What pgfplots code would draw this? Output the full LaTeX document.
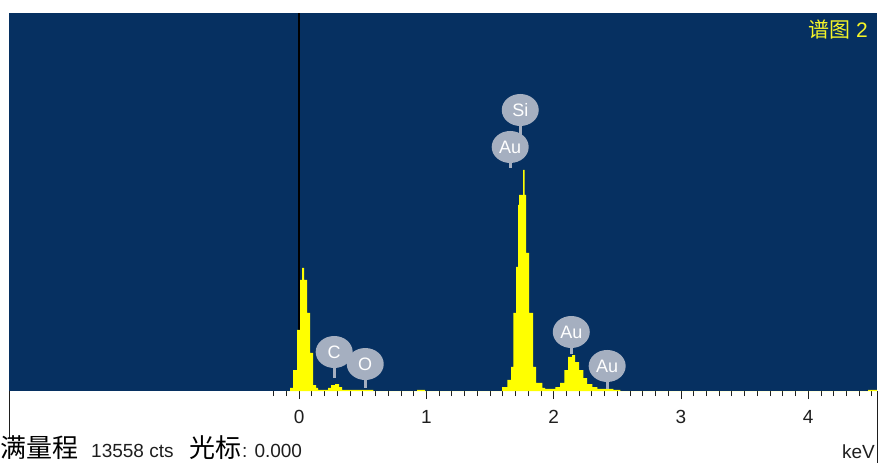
\documentclass[border=0pt]{standalone}
\usepackage{fontspec}
\setmainfont{Liberation Sans}
\newfontfamily\cjk{Noto Sans CJK SC}
\usepackage{pgfplots}
\pgfplotsset{compat=1.18}
\usetikzlibrary{shapes.geometric}
\definecolor{bgblue}{RGB}{6,48,97}
\definecolor{spec}{RGB}{255,255,0}
\definecolor{lbl}{RGB}{165,175,192}
\definecolor{ttl}{RGB}{245,245,40}
\definecolor{tk}{RGB}{30,30,30}
\begin{document}
\begin{tikzpicture}
\path[use as bounding box] (0,0) rectangle (880pt,463pt);
\begin{axis}[
  at={(9pt,72pt)}, anchor=south west, scale only axis,
  width=868pt, height=378pt,
  xmin=-2.28, xmax=4.54, ymin=0, ymax=13558,
  axis background/.style={fill=bgblue},
  axis line style={draw=none},
  ytick=\empty,
  xtick={0,1,2,3,4},
  minor xtick={-0.2,-0.1,...,4.5},
  xtick pos=left,
  tick align=outside,
  major tick length=8pt, minor tick length=5pt,
  tick style={tk, line width=1pt},
  /pgf/number format/assume math mode=true,
  xticklabel style={font=\fontsize{19pt}{19pt}\selectfont, text=tk, yshift=-8pt},
]
\addplot[black, line width=1.6pt] coordinates {(0,0) (0,13558)};
\addplot[const plot mark left, fill=spec, draw=none] table {
x y
-0.100 0
-0.071 108
-0.047 753
-0.016 2188
0.008 3982
0.024 4412
0.039 3982
0.063 2798
0.086 1363
0.110 215
0.134 108
0.149 36
0.228 108
0.251 215
0.283 251
0.314 143
0.338 36
0.582 0
0.927 36
0.990 0
1.595 143
1.635 395
1.666 861
1.682 2798
1.705 4448
1.721 6672
1.729 7031
1.760 7927
1.772 7031
1.784 4950
1.807 2798
1.839 861
1.862 287
1.910 108
1.933 72
2.012 143
2.051 287
2.083 753
2.114 1220
2.145 1291
2.169 1040
2.200 753
2.232 466
2.263 251
2.303 143
2.342 72
2.468 36
2.523 0
4.470 36
4.540 36
} \closedcycle;
\addplot[only marks, mark=none,
  nodes near coords, point meta=explicit symbolic,
  every node near coord/.append style={ellipse, fill=lbl, text=white,
     minimum width=37pt, minimum height=32pt, inner sep=0pt, anchor=center,
     font=\fontsize{18pt}{18pt}\selectfont},
  error bars/.cd, y dir=minus, y explicit, error mark=none,
  error bar style={draw=lbl, line width=3pt}]
  table[x=x, y=y, y error minus=e, meta=lab] {
x y e lab
0.275 1399 933 C
0.519 968 860 O
1.737 10079 1327 Si
1.658 8752 753 Au
2.138 2116 789 Au
2.420 897 825 Au
};
\end{axis}
\draw[tk, line width=0.8pt] (9pt,72pt) -- (9pt,25pt);
\draw[tk, line width=0.8pt] (877pt,72pt) -- (877pt,0pt);
\node[anchor=base east, inner sep=0pt, text=ttl, font=\fontsize{21pt}{21pt}\selectfont] at (868pt,425pt) {{\cjk 谱图} 2};
\node[anchor=base west, inner sep=0pt, font=\cjk\fontsize{26pt}{26pt}\selectfont] at (0pt,6pt) {满量程};
\node[anchor=base west, inner sep=0pt, text=tk, font=\fontsize{19pt}{19pt}\selectfont] at (91pt,6pt) {13558 cts};
\node[anchor=base west, inner sep=0pt, font=\cjk\fontsize{26pt}{26pt}\selectfont] at (189pt,6pt) {光标};
\node[anchor=base west, inner sep=0pt, text=tk, font=\fontsize{19pt}{19pt}\selectfont] at (242pt,6pt) {: 0.000};
\node[anchor=base east, inner sep=0pt, text=tk, font=\fontsize{19pt}{19pt}\selectfont] at (875pt,5pt) {keV};
\end{tikzpicture}
\end{document}
